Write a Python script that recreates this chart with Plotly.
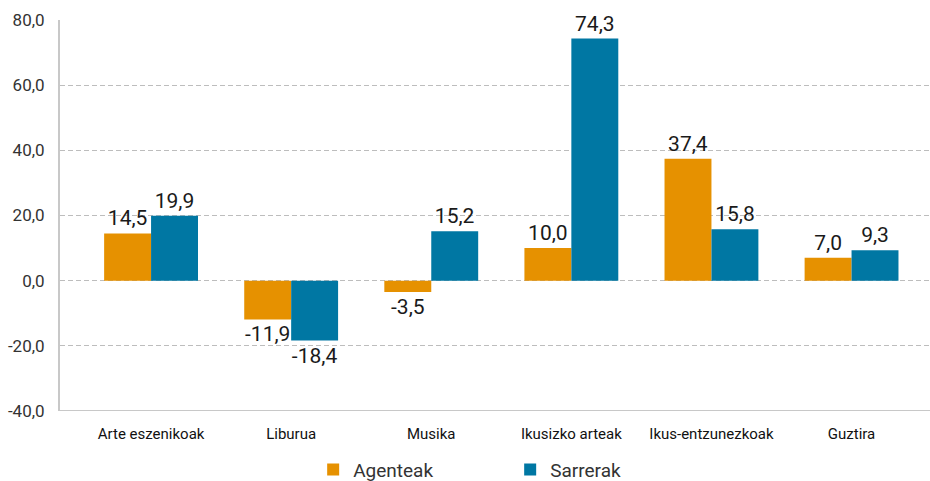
import plotly.graph_objects as go

categories = ["Arte eszenikoak", "Liburua", "Musika", "Ikusizko arteak",
              "Ikus-entzunezkoak", "Guztira"]
agenteak = [14.5, -11.9, -3.5, 10.0, 37.4, 7.0]
sarrerak = [19.9, -18.4, 15.2, 74.3, 15.8, 9.3]
y_ticks = [-40, -20, 0, 20, 40, 60, 80]

ORANGE = "#E69100"
BLUE = "#0077A3"
FONT = "Liberation Sans Narrow, Roboto, sans-serif"


def fmt(v):
    # comma decimal, plain hyphen for negatives
    return f"{v:.1f}".replace(".", ",")


fig = go.Figure()

for name, vals, color in [("Agenteak", agenteak, ORANGE), ("Sarrerak", sarrerak, BLUE)]:
    fig.add_trace(go.Bar(
        name=name,
        x=categories,
        y=vals,
        marker_color=color,
        marker_line_width=0,
        text=[fmt(v) for v in vals],
        textposition="outside",
        textfont=dict(size=21, color="#1a1a1a", family=FONT),
        cliponaxis=False,
        hoverinfo="skip",
    ))

fig.update_layout(
    width=930, height=481,
    barmode="group",
    bargap=0.33,
    bargroupgap=0,
    plot_bgcolor="white",
    paper_bgcolor="white",
    font=dict(family=FONT, color="#222"),
    margin=dict(l=60, r=0, t=20, b=70, autoexpand=False),
    showlegend=True,
    legend=dict(
        orientation="h",
        x=0.291, xanchor="left",
        y=-0.15, yanchor="middle",
        font=dict(size=19, color="#333", family=FONT),
        entrywidth=152,
        entrywidthmode="pixels",
    ),
    xaxis=dict(
        range=[-0.65, 5.56],
        showgrid=False,
        showline=False,
        ticks="",
        automargin=False,
        ticklabelstandoff=12,
        tickfont=dict(size=15, color="#111", family=FONT),
    ),
    yaxis=dict(
        range=[-40, 80],
        tickvals=y_ticks,
        ticktext=[fmt(v) for v in y_ticks],
        showgrid=True,
        gridcolor="#bdbdbd",
        griddash="5px,3px",
        gridwidth=1,
        zeroline=False,
        showline=True,
        linecolor="#c8c8c8",
        linewidth=2,
        ticks="",
        automargin=False,
        ticklabelstandoff=10,
        tickfont=dict(size=17, color="#333", family=FONT),
    ),
)

# bottom axis line at -40
fig.add_shape(type="line", xref="paper", yref="y", x0=0, x1=1, y0=-40, y1=-40,
              line=dict(color="#c8c8c8", width=2))

fig.write_html("out.html", config={"displayModeBar": False},
               post_script="document.body.style.margin='0';")
